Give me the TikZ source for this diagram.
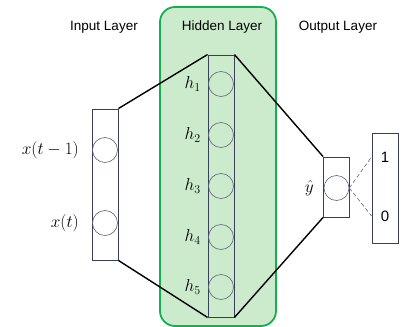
\documentclass[tikz,border=0pt]{standalone}
\usepackage{fontspec}
\setsansfont{Liberation Sans}
\usetikzlibrary{positioning}
\definecolor{panelfill}{HTML}{CCEBCC}
\definecolor{paneledge}{HTML}{13B04F}
\definecolor{layeredge}{HTML}{3A3F58}
\definecolor{unitedge}{HTML}{5F667A}
\tikzset{
  panel/.style={
    draw=paneledge,
    fill=panelfill,
    rounded corners=15pt,
    line width=1.8pt,
    inner sep=0pt
  },
  layerbox/.style={
    draw=layeredge,
    line width=0.9pt,
    minimum width=26pt,
    inner sep=0pt
  },
  unit/.style={circle, draw=unitedge, line width=0.6pt, minimum size=25pt, inner sep=0pt},
  unitlabel/.style={font=\fontsize{17.5}{20}\selectfont, anchor=east, inner sep=1pt},
  classlabel/.style={font=\sffamily\fontsize{15}{18}\selectfont, inner sep=1pt},
  title/.style={font=\sffamily\fontsize{13.5}{15}\selectfont},
  link/.style={line width=1.4pt, draw=black},
  outlink/.style={line width=0.6pt, draw=unitedge, dash pattern=on 4pt off 2.5pt}
}

\begin{document}
\begin{tikzpicture}[x=1pt,y=-1pt]
\useasboundingbox (0,0) rectangle (408,327);

\node[panel, minimum width=116pt, minimum height=319pt] (panel) at (218,166.5) {};

\node[title] (intitle) at (104,27) {Input Layer};
\node[title] (hidtitle) at (222,27) {Hidden Layer};
\node[title] (outtitle) at (338,27) {Output Layer};

% input layer
\node[layerbox, minimum height=151pt] (input) at (105,184.5) {};
\node[unit] (x1) at (105,150) {};
\node[unit] (x2) at (105,223) {};
\node[unitlabel] (lx1) at (80,150) {$x(t-1)$};
\node[unitlabel] (lx2) at (80,223) {$x(t)$};

% hidden layer
\node[layerbox, minimum height=262pt] (hidden) at (221,186) {};
\foreach \i/\y in {1/84,2/135,3/186,4/237,5/287}{
  \node[unit] (h\i) at (221,\y) {};
  \node[unitlabel] (lh\i) at (202,\y) {$h_{\i}$};
}

% output layer
\node[layerbox, minimum height=60pt] (output) at (336.5,187) {};
\node[unit] (yhat) at (336.5,188) {};
\node[unitlabel] (lyhat) at (315,188) {$\hat{y}$};

\node[layerbox, minimum height=110pt] (classes) at (385,188) {};
\node[classlabel] (one) at (385,157) {1};
\node[classlabel] (zero) at (385,216) {0};
\coordinate (oneend) at (classes.west |- one);
\coordinate (zeroend) at (classes.west |- zero);

\draw[link] (input.north east) -- (hidden.north west);
\draw[link] (input.south east) -- (hidden.south west);
\draw[link] (hidden.north east) -- (output.north west);
\draw[link] (hidden.south east) -- (output.south west);
\draw[outlink] (yhat.east) -- (oneend);
\draw[outlink] (yhat.east) -- (zeroend);

\end{tikzpicture}
\end{document}
